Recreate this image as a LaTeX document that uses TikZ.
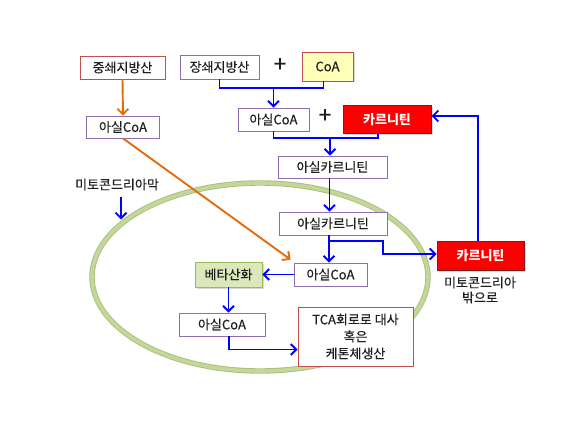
\documentclass[tikz,border=0pt]{standalone}
\usepackage{fontspec}
\setmainfont{Noto Sans CJK KR}[UprightFeatures={FakeBold=0.35}]
\usetikzlibrary{arrows.meta,shadows}
\definecolor{bl}{RGB}{0,0,255}
\definecolor{org}{RGB}{228,108,10}
\definecolor{pur}{RGB}{140,112,176}
\definecolor{rdb}{RGB}{192,80,77}
\definecolor{yel}{RGB}{255,255,185}
\definecolor{carred}{RGB}{255,0,0}
\definecolor{carbd}{RGB}{120,30,30}
\definecolor{memb}{RGB}{196,215,155}
\definecolor{membd}{RGB}{170,190,125}
\definecolor{grnf}{RGB}{218,232,188}
\definecolor{grnb}{RGB}{155,187,89}
\definecolor{txt}{RGB}{30,30,30}
\begin{document}
\begin{tikzpicture}[x=1pt,y=-1pt,
  font=\fontsize{13}{15}\selectfont, text=txt,
  bx/.style={draw=pur, fill=white, line width=0.8pt, inner sep=0pt, align=center},
  rbx/.style={draw=rdb, fill=white, line width=0.8pt, inner sep=0pt, align=center},
  carbox/.style={draw=carbd, fill=carred, line width=1pt, inner sep=0pt, text=white, font=\fontsize{13}{15}\selectfont\bfseries,
     drop shadow={opacity=0.3,shadow xshift=1.5pt,shadow yshift=-1.5pt}},
  bline/.style={draw=bl, line width=1.9pt},
  barr/.style={draw=bl, line width=1.9pt, -{Straight Barb[length=5.5pt,width=11pt,line width=1.9pt]}},
  oarr/.style={draw=org, line width=1.9pt, -{Straight Barb[length=5.5pt,width=11pt,line width=1.9pt]}},
  plus/.style={font=\fontsize{22}{22}\selectfont, inner sep=0pt}
]
\useasboundingbox (0,0) rectangle (587,425);

% membrane
\draw[line width=5.4pt, membd] (260,277) ellipse [x radius=168, y radius=94];
\draw[line width=3.6pt, memb] (260,277) ellipse [x radius=168, y radius=94];

% nodes
\node[rbx, minimum width=85pt, minimum height=23pt] (mcfa) at (122.5,67.5) {중쇄지방산};
\node[bx, minimum width=79pt, minimum height=24pt] (lcfa) at (219.5,67) {장쇄지방산};
\node[plus] (p1) at (280,65) {+};
\node[draw=rdb, fill=yel, line width=0.8pt, inner sep=0pt, minimum width=51pt, minimum height=29pt,
  drop shadow={opacity=0.3,shadow xshift=1.5pt,shadow yshift=-1.5pt}] (coa) at (327.5,66.5) {CoA};
\node[bx, minimum width=73pt, minimum height=22pt] (acoaL) at (123,127) {아실CoA};
\node[bx, minimum width=71pt, minimum height=23pt] (acoaM) at (273.5,119.5) {아실CoA};
\node[plus] (p2) at (325,116) {+};
\node[carbox, minimum width=88pt, minimum height=28pt] (carT) at (387,120) {카르니틴};
\node[bx, minimum width=109pt, minimum height=22pt] (ac1) at (332.5,167) {아실카르니틴};
\node[bx, minimum width=108pt, minimum height=23pt] (ac2) at (333,223.5) {아실카르니틴};
\node[bx, minimum width=73pt, minimum height=23pt] (acoaI) at (330.5,274.5) {아실CoA};
\node[draw=grnb, fill=grnf, line width=0.8pt, inner sep=0pt, minimum width=67pt, minimum height=25pt,
  drop shadow={opacity=0.3,shadow xshift=1.5pt,shadow yshift=-1.5pt}] (beta) at (228.5,274.5) {베타산화};
\node[bx, minimum width=86pt, minimum height=23pt] (acoaB) at (222,324.5) {아실CoA};
\node[rbx, minimum width=115pt, minimum height=59pt, font=\fontsize{13}{17}\selectfont] (tca) at (355.5,336.5) {TCA회로로 대사\\혹은\\케톤체생산};
\node[carbox, minimum width=87pt, minimum height=28pt] (carR) at (480.5,256) {카르니틴};
\node[align=center, inner sep=0pt, font=\fontsize{13}{15}\selectfont] (out) at (480,290) {미토콘드리아\\밖으로};
\node[inner sep=0pt] (membt) at (117,184.5) {미토콘드리아막};

% coordinates
\coordinate (j1) at (273.5,88);
\coordinate (j2) at (330,138);
\coordinate (mt) at (121,219.5);

% orange arrows
\draw[oarr] (mcfa.south) -- (acoaL.north);
\draw[oarr] (acoaL.south) -- ([xshift=-3pt,yshift=3pt]acoaI.north west);

% blue connectors
\draw[bline] (lcfa.south) -- (lcfa.south |- j1) -- ([xshift=-4pt]coa.south |- j1) -- ([xshift=-4pt]coa.south);
\draw[barr] (j1) -- (acoaM.north);
\draw[bline] (acoaM.south) -- (acoaM.south |- j2) -- ([xshift=-9pt]carT.south |- j2) -- ([xshift=-9pt]carT.south);
\draw[barr] (j2) -- (j2 |- ac1.north);
\draw[barr] ([xshift=-3pt]ac1.south) -- ([xshift=-3pt]ac1.south |- ac2.north);
\draw[barr] ([xshift=-4pt]ac2.south) -- ([xshift=-4pt]ac2.south |- acoaI.north);
\draw[barr] ([xshift=-4pt,yshift=-6pt]ac2.south) -| (383,254) -- (carR.west |- 0,254);
\draw[barr] ([xshift=-2.5pt]carR.north) -- ([xshift=-2.5pt]carR.north |- 0,116) -- (carT.east |- 0,116);
\draw[barr] (acoaI.west) -- (beta.east);
\draw[barr] (beta.south) -- (beta.south |- acoaB.north);
\draw[barr] ([xshift=7pt]acoaB.south) -- ([xshift=7pt]acoaB.south |- 0,349.5) -- (tca.west |- 0,349.5);
\draw[barr] ([xshift=4pt,yshift=-6pt]membt.south) -- (mt);
\end{tikzpicture}
\end{document}
